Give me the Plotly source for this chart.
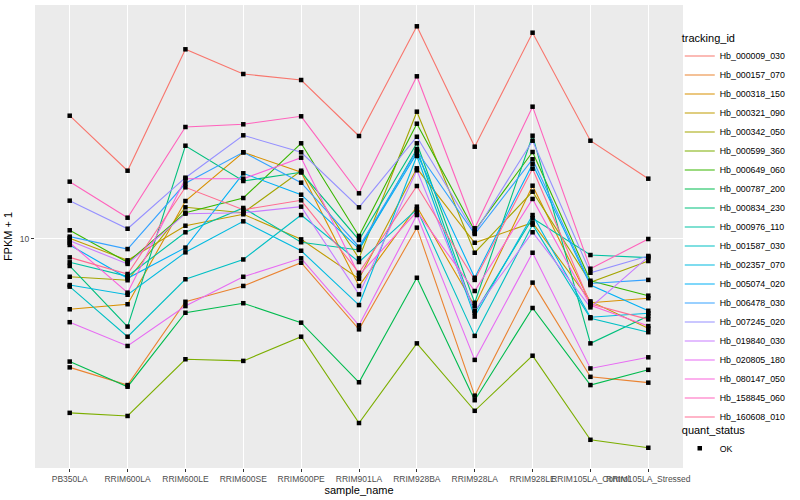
import plotly.graph_objects as go

samples = ["PB350LA", "RRIM600LA", "RRIM600LE", "RRIM600SE", "RRIM600PE", "RRIM901LA",
           "RRIM928BA", "RRIM928LA", "RRIM928LE", "RRIM105LA_Control", "RRIM105LA_Stressed"]

tracking_ids = ["Hb_000009_030", "Hb_000157_070", "Hb_000318_150", "Hb_000321_090", "Hb_000342_050",
                "Hb_000599_360", "Hb_000649_060", "Hb_000787_200", "Hb_000834_230", "Hb_000976_110",
                "Hb_001587_030", "Hb_002357_070", "Hb_005074_020", "Hb_006478_030", "Hb_007245_020",
                "Hb_019840_030", "Hb_020805_180", "Hb_080147_050", "Hb_158845_060", "Hb_160608_010"]

# FPKM + 1 values per sample (same order as samples)
Hb_000009_030 = [28.18, 17.75, 49.24, 40.01, 38.04, 23.76, 59.74, 21.72, 56.61, 22.84, 16.60]
Hb_000157_070 = [3.40, 2.93, 5.90, 6.74, 8.19, 4.68, 11.00, 2.68, 6.93, 3.14, 2.99]
Hb_000318_150 = [5.54, 5.78, 13.76, 20.72, 17.52, 6.74, 13.12, 5.69, 15.65, 5.85, 6.08]
Hb_000321_090 = [10.06, 8.36, 11.18, 12.31, 9.97, 7.16, 18.11, 9.69, 11.47, 5.92, 4.72]
Hb_000342_050 = [7.28, 7.07, 13.05, 12.47, 17.75, 8.50, 29.15, 8.91, 14.88, 6.95, 8.31]
Hb_000599_360 = [2.32, 2.26, 3.64, 3.59, 4.40, 2.13, 4.16, 2.36, 3.75, 1.85, 1.73]
Hb_000649_060 = [10.76, 8.22, 12.47, 14.11, 22.35, 10.26, 26.35, 10.72, 20.77, 7.04, 6.21]
Hb_000787_200 = [3.57, 2.89, 5.38, 5.83, 4.95, 3.00, 7.22, 2.58, 5.60, 2.93, 3.33]
Hb_000834_230 = [7.97, 4.79, 21.90, 16.28, 17.52, 9.92, 22.35, 5.85, 23.82, 4.16, 5.24]
Hb_000976_110 = [8.22, 7.31, 10.58, 12.98, 9.73, 9.12, 21.30, 5.38, 11.90, 8.74, 8.55]
Hb_001587_030 = [6.70, 4.40, 7.13, 8.42, 12.23, 8.24, 12.83, 4.43, 11.28, 5.14, 4.57]
Hb_002357_070 = [6.79, 6.26, 8.94, 11.60, 9.06, 5.74, 20.09, 5.21, 12.23, 5.18, 5.36]
Hb_005074_020 = [9.51, 7.19, 9.30, 17.37, 14.51, 9.23, 20.55, 7.22, 18.78, 6.79, 5.47]
Hb_006478_030 = [10.20, 9.19, 15.97, 20.72, 16.05, 9.37, 20.95, 10.43, 19.54, 6.88, 7.09]
Hb_007245_020 = [13.80, 10.90, 16.74, 23.90, 20.72, 13.05, 23.62, 10.54, 22.84, 7.53, 8.67]
Hb_019840_030 = [9.86, 8.11, 12.37, 12.47, 13.12, 6.28, 17.81, 5.47, 10.58, 5.63, 8.61]
Hb_020805_180 = [4.97, 4.07, 5.69, 7.28, 8.50, 4.84, 12.23, 3.62, 8.91, 3.37, 3.70]
Hb_080147_050 = [9.69, 6.37, 16.60, 16.60, 19.80, 7.37, 12.58, 6.46, 14.00, 5.73, 4.81]
Hb_158845_060 = [16.19, 11.96, 25.63, 26.22, 28.04, 14.68, 39.24, 10.94, 30.40, 7.79, 10.00]
Hb_160608_010 = [8.57, 7.45, 15.44, 12.79, 13.84, 7.53, 15.61, 7.09, 18.05, 5.79, 5.09]

series = [Hb_000009_030, Hb_000157_070, Hb_000318_150, Hb_000321_090, Hb_000342_050,
          Hb_000599_360, Hb_000649_060, Hb_000787_200, Hb_000834_230, Hb_000976_110,
          Hb_001587_030, Hb_002357_070, Hb_005074_020, Hb_006478_030, Hb_007245_020,
          Hb_019840_030, Hb_020805_180, Hb_080147_050, Hb_158845_060, Hb_160608_010]

colors = ["#F8766D", "#EA8331", "#D89000", "#C09B00", "#A3A500", "#7CAE00", "#39B600", "#00BB4E",
          "#00BF7D", "#00C1A3", "#00BFC4", "#00BAE0", "#00B0F6", "#35A2FF", "#9590FF", "#C77CFF",
          "#E76BF3", "#FA62DB", "#FF62BC", "#FF6C91"]

FONT = "Liberation Sans, Arial, sans-serif"

fig = go.Figure()
for name, vals, col in zip(tracking_ids, series, colors):
    fig.add_trace(go.Scatter(x=samples, y=vals, mode="lines", name=name,
                             line=dict(color=col, width=1.1), legend="legend",
                             hoverinfo="x+y+name"))

all_x = [s for vals in series for s in samples]
all_y = [v for vals in series for v in vals]
fig.add_trace(go.Scatter(x=all_x, y=all_y, mode="markers", name="OK", legend="legend2",
                         marker=dict(color="black", size=4.5, symbol="square")))

fig.update_layout(
    width=800, height=500,
    margin=dict(l=35, r=117, t=5, b=32, autoexpand=False),
    paper_bgcolor="white", plot_bgcolor="#EBEBEB",
    font=dict(family=FONT, size=9, color="black"),
    legend=dict(title=dict(text="tracking_id", font=dict(size=11, color="black")),
                x=0.995, xanchor="left", y=0.952, yanchor="top",
                font=dict(size=8.8, color="black"), itemwidth=30,
                bgcolor="rgba(0,0,0,0)"),
    legend2=dict(title=dict(text="quant_status", font=dict(size=11, color="black")),
                 x=0.995, xanchor="left", y=0.105, yanchor="top",
                 font=dict(size=8.8, color="black"), itemwidth=30,
                 bgcolor="rgba(0,0,0,0)"),
    xaxis=dict(type="category", categoryorder="array", categoryarray=samples,
               range=[-0.6, 10.6], showgrid=True, gridcolor="white", gridwidth=1.1,
               ticks="outside", ticklen=3, tickcolor="#333333", tickwidth=1, tickangle=0,
               automargin=False,
               tickfont=dict(size=8.5, color="#4D4D4D"), zeroline=False, showline=False,
               title=dict(text="sample_name", font=dict(size=11, color="black"), standoff=1)),
    yaxis=dict(type="log", range=[0.1642, 1.854], tickvals=[10], ticktext=["10"],
               showgrid=True, gridcolor="white", gridwidth=1.1, automargin=False,
               ticks="outside", ticklen=3, tickcolor="#333333", tickwidth=1,
               tickfont=dict(size=8.5, color="#4D4D4D"), zeroline=False, showline=False,
               title=dict(text="FPKM + 1", font=dict(size=11, color="black"), standoff=4)),
)

fig.write_html("out.html", config={"displayModeBar": False},
               post_script="document.body.style.margin='0';document.body.style.overflow='hidden';")
